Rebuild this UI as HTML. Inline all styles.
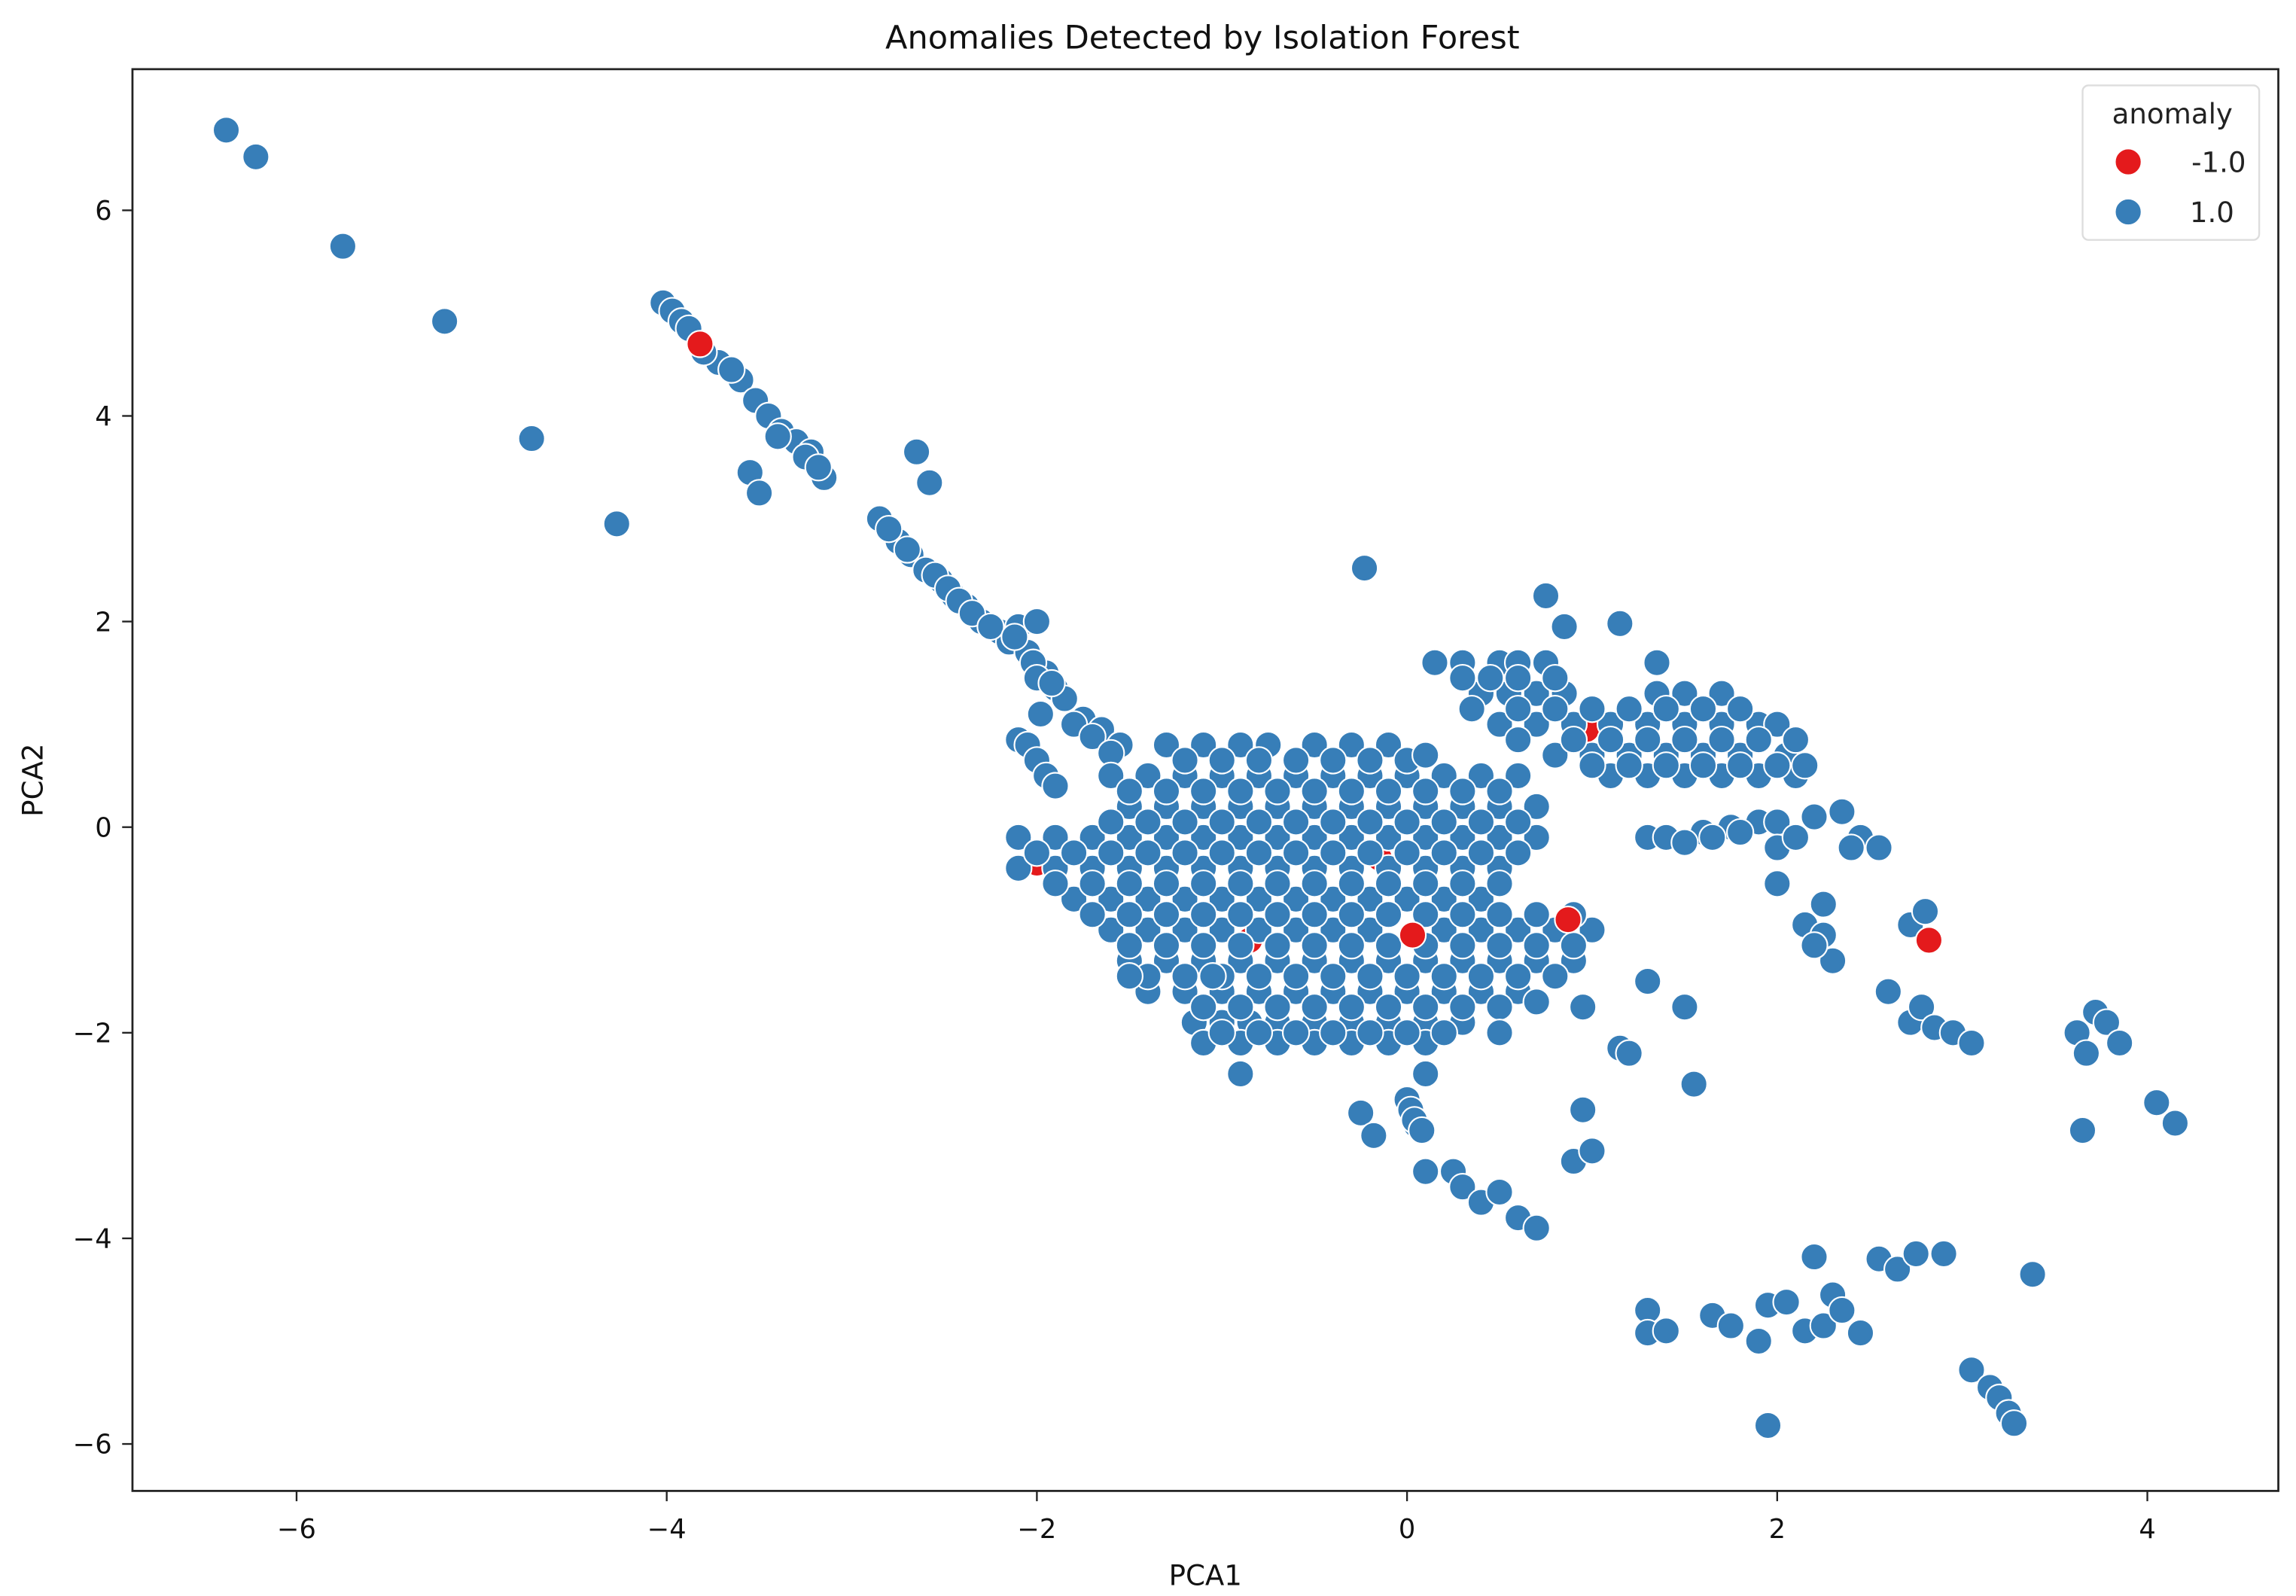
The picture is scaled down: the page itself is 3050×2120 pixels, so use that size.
<!DOCTYPE html>
<html><head><meta charset="utf-8"><style>
html,body{margin:0;padding:0;background:#fff;}
svg{display:block;font-family:"DejaVu Sans","Liberation Sans",sans-serif;}
</style></head><body>
<svg id="chart" width="3050" height="2120" viewBox="0 0 1560 1084.4" preserveAspectRatio="none" xmlns="http://www.w3.org/2000/svg">
<rect width="1560" height="1084.4" fill="#fff"/>
<text x="817" y="33" font-size="22" text-anchor="middle" fill="#111">Anomalies Detected by Isolation Forest</text>
<g id="points"></g>
<rect x="90" y="47" width="1458" height="966" fill="none" stroke="#222" stroke-width="1.4"/>
<g id="xticks"></g>
<g id="yticks"></g>
<text x="819" y="1077" font-size="19" text-anchor="middle" fill="#111">PCA1</text>
<text x="29" y="530" font-size="19" text-anchor="middle" fill="#111" transform="rotate(-90 29 530)">PCA2</text>
<g>
<rect x="1415" y="58" width="120" height="105" rx="4" fill="#fff" fill-opacity="0.85" stroke="#ddd" stroke-width="1.2"/>
<text x="1476" y="84" font-size="19" text-anchor="middle" fill="#222">anomaly</text>
<g><circle cx="1446" cy="110" r="9" fill="#e41a1c" stroke="#fff" stroke-width="1"/><text x="1526" y="117" font-size="19" text-anchor="end" fill="#222">-1.0</text></g>
<g><circle cx="1446" cy="144" r="9" fill="#377eb8" stroke="#fff" stroke-width="1"/><text x="1518" y="151" font-size="19" text-anchor="end" fill="#222">1.0</text></g>
</g>
</svg>
<script>
const xTicks=[-6,-4,-2,0,2,4];
const yTicks=[-6,-4,-2,0,2,4,6];
const normalX=[-6.38,-6.22,-5.75,-5.2,-4.73,-4.27,-4.02,-3.97,-3.92,-3.88,-3.72,-3.6,-3.52,-3.45,-3.38,-3.3,-3.22,-3.15,-3.55,-3.5,-2.65,-2.58,-2.85,-2.75,-2.68,-2.6,-2.52,-2.45,-2.38,-2.3,-2.2,-2.1,-2.0,-2.15,-2.05,-1.95,-1.9,-1.85,-1.75,-1.65,-1.55,-2.1,-2.05,-2.0,-1.95,-1.9,-0.23,-3.8,-3.65,-3.4,-3.25,-3.18,-2.8,-2.7,-2.55,-2.48,-2.42,-2.35,-2.25,-2.12,-2.02,-1.98,-1.8,-1.7,-1.6,-2.0,-1.92];
const normalY=[6.78,6.52,5.65,4.92,3.78,2.95,5.1,5.02,4.92,4.85,4.52,4.35,4.15,4.0,3.85,3.75,3.65,3.4,3.45,3.25,3.65,3.35,3.0,2.78,2.65,2.5,2.4,2.25,2.15,2.0,1.9,1.95,2.0,1.8,1.7,1.5,1.35,1.25,1.05,0.95,0.8,0.85,0.8,0.65,0.5,0.4,2.52,4.62,4.45,3.8,3.6,3.5,2.9,2.7,2.45,2.32,2.2,2.08,1.95,1.85,1.6,1.1,1.0,0.88,0.72,1.45,1.4];
const blobRowsY=[0.8,0.5,0.2,-0.1,-0.4,-0.7,-1.0,-1.3,-1.6,-1.9,-2.1,1.6,1.3,1.0,0.7,0.5,0.65,0.35,0.05,-0.25,-0.55,-0.85,-1.15,-1.45,-1.75,-2.0,1.15,0.85,0.6,1.45];
const blobRowsX=[
[-1.3,-1.1,-0.9,-0.75,-0.5,-0.3,-0.1],
[-1.6,-1.4,-1.2,-1.0,-0.8,-0.6,-0.4,-0.2,0.0,0.2,0.4,0.6],
[-1.5,-1.3,-1.1,-0.9,-0.7,-0.5,-0.3,-0.1,0.1,0.3,0.5,0.7],
[-2.1,-1.9,-1.7,-1.5,-1.3,-1.1,-0.9,-0.7,-0.5,-0.3,-0.1,0.1,0.3,0.5,0.7],
[-2.1,-1.9,-1.7,-1.5,-1.3,-1.1,-0.9,-0.7,-0.5,-0.3,-0.1,0.1,0.3,0.5],
[-1.8,-1.6,-1.4,-1.2,-1.0,-0.8,-0.6,-0.4,-0.2,0.0,0.2,0.4],
[-1.6,-1.4,-1.2,-1.0,-0.8,-0.6,-0.4,-0.2,0.2,0.4,0.6,0.8,1.0],
[-1.5,-1.3,-1.1,-0.9,-0.7,-0.5,-0.3,-0.1,0.1,0.3,0.5,0.7,0.9],
[-1.4,-1.2,-1.0,-0.8,-0.6,-0.4,-0.2,0.0,0.2,0.4,0.6],
[-1.15,-1.0,-0.85,-0.7,-0.5,-0.3,-0.1,0.1,0.3],
[-1.1,-0.9,-0.7,-0.5,-0.3,-0.1,0.1],
[0.15,0.3,0.5,0.6,0.75],
[0.4,0.55,0.7,0.85,1.35,1.5,1.7],
[0.5,0.7,0.9,1.1,1.3,1.5,1.7,1.9,2.0],
[0.8,1.0,1.2,1.4,1.6,1.8,2.05],
[1.1,1.3,1.5,1.7,1.9,2.1],
[-1.2,-1.0,-0.8,-0.6,-0.4,-0.2,0.0],
[-1.5,-1.3,-1.1,-0.9,-0.7,-0.5,-0.3,-0.1,0.1,0.3,0.5],
[-1.6,-1.4,-1.2,-1.0,-0.8,-0.6,-0.4,-0.2,0.0,0.2,0.4,0.6],
[-2.0,-1.8,-1.6,-1.4,-1.2,-1.0,-0.8,-0.6,-0.4,-0.2,0.0,0.2,0.4,0.6],
[-1.9,-1.7,-1.5,-1.3,-1.1,-0.9,-0.7,-0.5,-0.3,-0.1,0.1,0.3,0.5],
[-1.7,-1.5,-1.3,-1.1,-0.9,-0.7,-0.5,-0.3,-0.1,0.1,0.3,0.5,0.7,0.9],
[-1.5,-1.3,-1.1,-0.9,-0.7,-0.5,-0.3,-0.1,0.1,0.3,0.5,0.7,0.9],
[-1.4,-1.2,-1.0,-0.8,-0.6,-0.4,-0.2,0.0,0.2,0.4,0.6,0.8],
[-1.1,-0.9,-0.7,-0.5,-0.3,-0.1,0.1,0.3,0.5],
[-1.0,-0.8,-0.6,-0.4,-0.2,0.0,0.2],
[0.35,0.6,0.8,1.0,1.2,1.4,1.6,1.8],
[0.6,0.9,1.1,1.3,1.5,1.7,1.9,2.1],
[1.0,1.2,1.4,1.6,1.8,2.0,2.15],
[0.3,0.45,0.6,0.8]];
const extraX=[0.75,0.85,1.15,1.35,0.1,1.3,1.4,1.6,1.75,1.9,2.0,2.2,2.35,2.45,2.55,2.0,2.0,2.15,2.25,2.3,2.25,2.6,2.72,2.78,2.85,2.95,3.05,2.72,2.8,3.62,3.72,3.78,3.85,3.67,3.65,4.05,4.15,1.5,1.55,1.3,1.15,1.2,0.95,0.95,0.9,1.0,0.5,0.7,-0.9,-0.25,-0.18,0.0,0.05,0.1,0.1,0.25,0.3,0.4,0.5,0.6,0.7,-1.05,-1.5,1.3,1.3,1.4,1.65,1.75,1.9,1.95,2.05,2.15,2.2,2.25,2.3,2.35,2.45,2.55,2.65,2.75,2.9,3.38,3.05,3.15,3.2,3.25,3.28,1.95,1.5,1.65,1.8,2.1,2.4,2.2,0.02,0.04,0.08];
const extraY=[2.25,1.95,1.98,1.6,0.7,-0.1,-0.1,-0.05,0.0,0.05,0.05,0.1,0.15,-0.1,-0.2,-0.2,-0.55,-0.95,-1.05,-1.3,-0.75,-1.6,-1.9,-1.75,-1.95,-2.0,-2.1,-0.95,-0.82,-2.0,-1.8,-1.9,-2.1,-2.2,-2.95,-2.68,-2.88,-1.75,-2.5,-1.5,-2.15,-2.2,-1.75,-2.75,-3.25,-3.15,-2.0,-1.7,-2.4,-2.78,-3.0,-2.65,-2.9,-2.4,-3.35,-3.35,-3.5,-3.65,-3.55,-3.8,-3.9,-1.45,-1.45,-4.7,-4.92,-4.9,-4.75,-4.85,-5.0,-4.65,-4.62,-4.9,-4.18,-4.85,-4.55,-4.7,-4.92,-4.2,-4.3,-4.15,-4.15,-4.35,-5.28,-5.45,-5.55,-5.7,-5.8,-5.82,-0.15,-0.1,-0.05,-0.1,-0.2,-1.15,-2.75,-2.85,-2.95];
const hiddenAnomalyX=[-0.15,0.97,-2.0,-0.85];
const hiddenAnomalyY=[-0.3,0.95,-0.35,-1.1];
const anomalyX=[-3.82,0.03,0.87,2.82];
const anomalyY=[4.7,-1.05,-0.9,-1.1];

const xs=v=>956+v*125.75;
const ys=v=>562-v*69.85;
const NS="http://www.w3.org/2000/svg";
const pts=document.getElementById('points');
function dot(x,y,color){
  const c=document.createElementNS(NS,'circle');
  c.setAttribute('cx',xs(x));c.setAttribute('cy',ys(y));c.setAttribute('r',9);
  c.setAttribute('fill',color);c.setAttribute('stroke','#fff');c.setAttribute('stroke-width',1.1);
  pts.appendChild(c);return c;
}
for(let i=0;i<hiddenAnomalyX.length;i++){
  const c=dot(hiddenAnomalyX[i],hiddenAnomalyY[i],'#e41a1c');
  
  
}
for(let i=0;i<normalX.length;i++){
  const c=dot(normalX[i],normalY[i],'#377eb8');
  
  
}
for(let r=0;r<blobRowsY.length;r++){
  for(let j=0;j<blobRowsX[r].length;j++){
    const c=dot(blobRowsX[r][j],blobRowsY[r],'#377eb8');
    
    
  }
}
for(let i=0;i<extraX.length;i++){
  const c=dot(extraX[i],extraY[i],'#377eb8');
  
  
}
for(let i=0;i<anomalyX.length;i++){
  const c=dot(anomalyX[i],anomalyY[i],'#e41a1c');
  
  
}
const xg=document.getElementById('xticks');
xTicks.forEach(t=>{
  const l=document.createElementNS(NS,'line');
  l.setAttribute('x1',xs(t));l.setAttribute('x2',xs(t));l.setAttribute('y1',1013);l.setAttribute('y2',1020);
  l.setAttribute('stroke','#222');l.setAttribute('stroke-width',1.2);
  
  
  xg.appendChild(l);
  const tx=document.createElementNS(NS,'text');
  tx.setAttribute('x',xs(t));tx.setAttribute('y',1045);tx.setAttribute('font-size',18);
  tx.setAttribute('text-anchor','middle');tx.setAttribute('fill','#111');
  tx.textContent=(t<0?'\u2212':'')+Math.abs(t);
  
  
  xg.appendChild(tx);
});
const yg=document.getElementById('yticks');
yTicks.forEach(t=>{
  const l=document.createElementNS(NS,'line');
  l.setAttribute('x1',83);l.setAttribute('x2',90);l.setAttribute('y1',ys(t));l.setAttribute('y2',ys(t));
  l.setAttribute('stroke','#222');l.setAttribute('stroke-width',1.2);
  
  
  yg.appendChild(l);
  const tx=document.createElementNS(NS,'text');
  tx.setAttribute('x',76);tx.setAttribute('y',ys(t)+6.5);tx.setAttribute('font-size',18);
  tx.setAttribute('text-anchor','end');tx.setAttribute('fill','#111');
  tx.textContent=(t<0?'\u2212':'')+Math.abs(t);
  
  
  yg.appendChild(tx);
});
</script>
</body></html>
